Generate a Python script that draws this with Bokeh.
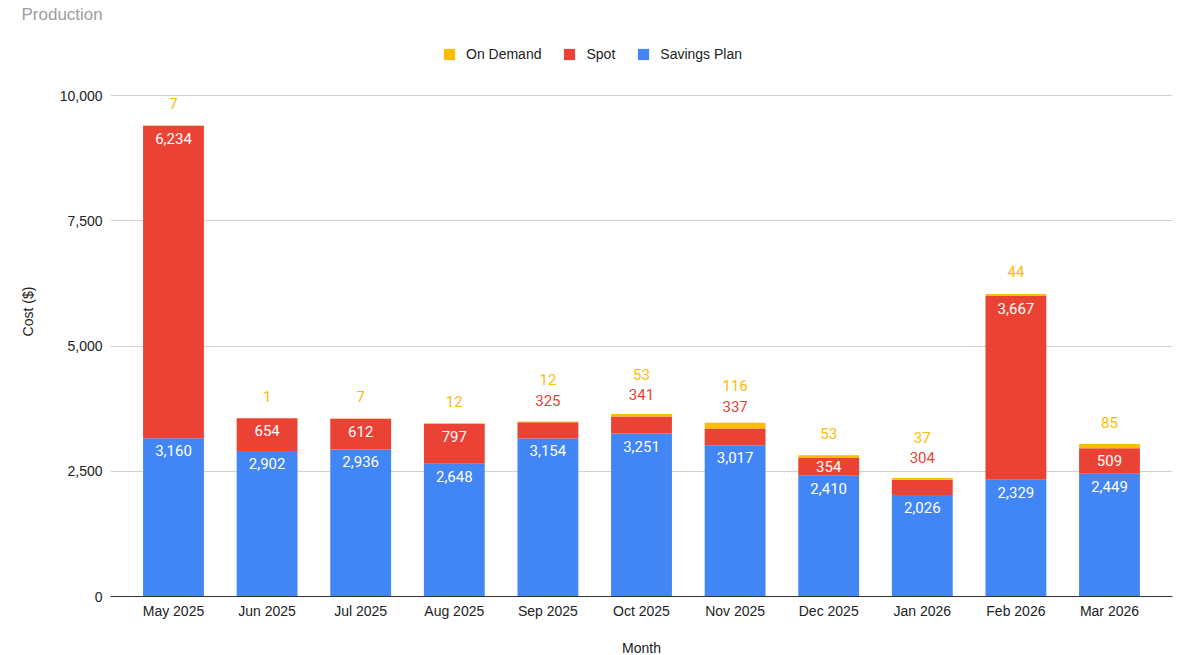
from bokeh.plotting import figure
from bokeh.models import (ColumnDataSource, FactorRange, Range1d, FixedTicker,
                          NumeralTickFormatter, Legend, LegendItem)
from bokeh.core.properties import value
from bokeh.embed import file_html
from bokeh.resources import INLINE

# ---------------- data ----------------
months = ["May 2025", "Jun 2025", "Jul 2025", "Aug 2025", "Sep 2025", "Oct 2025",
          "Nov 2025", "Dec 2025", "Jan 2026", "Feb 2026", "Mar 2026"]
savings_plan = [3160, 2902, 2936, 2648, 3154, 3251, 3017, 2410, 2026, 2329, 2449]
spot = [6234, 654, 612, 797, 325, 341, 337, 354, 304, 3667, 509]
on_demand = [7, 1, 7, 12, 12, 53, 116, 53, 37, 44, 85]
series_names = ["Savings Plan", "Spot", "On Demand"]
series_keys = ["savings_plan", "spot", "on_demand"]
colors = ["#4285F4", "#EA4335", "#FBBC04"]
y_ticks = [0, 2500, 5000, 7500, 10000]

# ---------------- geometry ----------------
TOP_BORDER = 26
FRAME_W, FRAME_H = 1062, 570
PX_PER_UNIT = 501 / 10000.0
Y_END = FRAME_H / PX_PER_UNIT

src = ColumnDataSource(dict(months=months, savings_plan=savings_plan,
                            spot=spot, on_demand=on_demand))

p = figure(x_range=FactorRange(factors=months, range_padding=0.173,
                               range_padding_units="absolute"),
           y_range=Range1d(0, Y_END),
           frame_width=FRAME_W, frame_height=FRAME_H,
           min_border_left=110, min_border_right=11, min_border_top=TOP_BORDER,
           min_border_bottom=59,
           output_backend="svg", toolbar_location=None,
           outline_line_color=None, background_fill_color="white",
           border_fill_color="white")

# title
p.title.text = "Production"
p.title.align = "left"
p.title.offset = 21 - 110
p.title.standoff = 5
p.title.text_font = "Liberation Sans"
p.title.text_font_size = "17px"
p.title.text_font_style = "normal"
p.title.text_color = "#9e9e9e"

renderers = p.vbar_stack(series_keys, x="months", width=0.65, color=colors,
                         line_color=None, source=src)

# ---------------- data labels ----------------
series_vals = [savings_plan, spot, on_demand]
lx, ly, lt, lc, lo = [], [], [], [], []
for i, m in enumerate(months):
    bottom = 0
    outside = []
    for vals, col in zip(series_vals, colors):
        v = vals[i]
        top = bottom + v
        seg_px = v * PX_PER_UNIT
        if seg_px >= 17.5:
            lx.append(m); ly.append(top); lt.append(f"{v:,}")
            lc.append("white"); lo.append(min(12.5, seg_px / 2))
        else:
            outside.append((v, col, top))
        bottom = top
    if outside:
        anchor = outside[0][2]
        for k, (v, col, top) in enumerate(outside):
            lx.append(m); ly.append(anchor); lt.append(f"{v:,}")
            lc.append(col); lo.append(-(22 + 20.5 * k))

lsrc = ColumnDataSource(dict(x=lx, y=ly, text=lt, color=lc, yoff=lo))
p.text(x="x", y="y", text="text", text_color="color", y_offset="yoff",
       text_align="center", text_baseline="middle",
       text_font=value("Roboto"), text_font_size="15px", source=lsrc)

# ---------------- axes ----------------
p.yaxis.ticker = FixedTicker(ticks=y_ticks)
p.yaxis.formatter = NumeralTickFormatter(format="0,0")
p.yaxis.axis_line_color = None
p.yaxis.major_label_standoff = 8
p.yaxis.axis_label = "Cost ($)"
p.yaxis.axis_label_standoff = 21

p.xaxis.axis_line_color = "#333333"
p.xaxis.axis_line_width = 1
p.xaxis.major_label_standoff = 6
p.xaxis.axis_label = "Month"
p.xaxis.axis_label_standoff = 18

for ax in (p.xaxis, p.yaxis):
    ax.major_tick_line_color = None
    ax.minor_tick_line_color = None
    ax.major_tick_out = 0
    ax.major_tick_in = 0
    ax.minor_tick_out = 0
    ax.minor_tick_in = 0
    ax.major_label_text_font = "Liberation Sans"
    ax.major_label_text_font_size = "14px"
    ax.major_label_text_color = "#222222"
    ax.axis_label_text_font = "Liberation Sans"
    ax.axis_label_text_font_size = "14px"
    ax.axis_label_text_font_style = "normal"
    ax.axis_label_text_color = "#222222"

p.xgrid.grid_line_color = None
p.ygrid.ticker = FixedTicker(ticks=y_ticks)
p.ygrid.grid_line_color = "#d0d0d0"
p.ygrid.grid_line_width = 1

# ---------------- legend ----------------
items = [LegendItem(label=series_names[k], renderers=[renderers[k]]) for k in (2, 1, 0)]
legend = Legend(items=items, orientation="horizontal", location=(332, 534),
                glyph_width=14, glyph_height=14, label_standoff=10, spacing=21,
                padding=0, margin=0, border_line_color=None,
                background_fill_alpha=0, label_height=14,
                label_text_font="Liberation Sans", label_text_font_size="14px",
                label_text_color="#222222", label_text_baseline="middle")
p.add_layout(legend)

open("out.html", "w").write(file_html(p, INLINE))
